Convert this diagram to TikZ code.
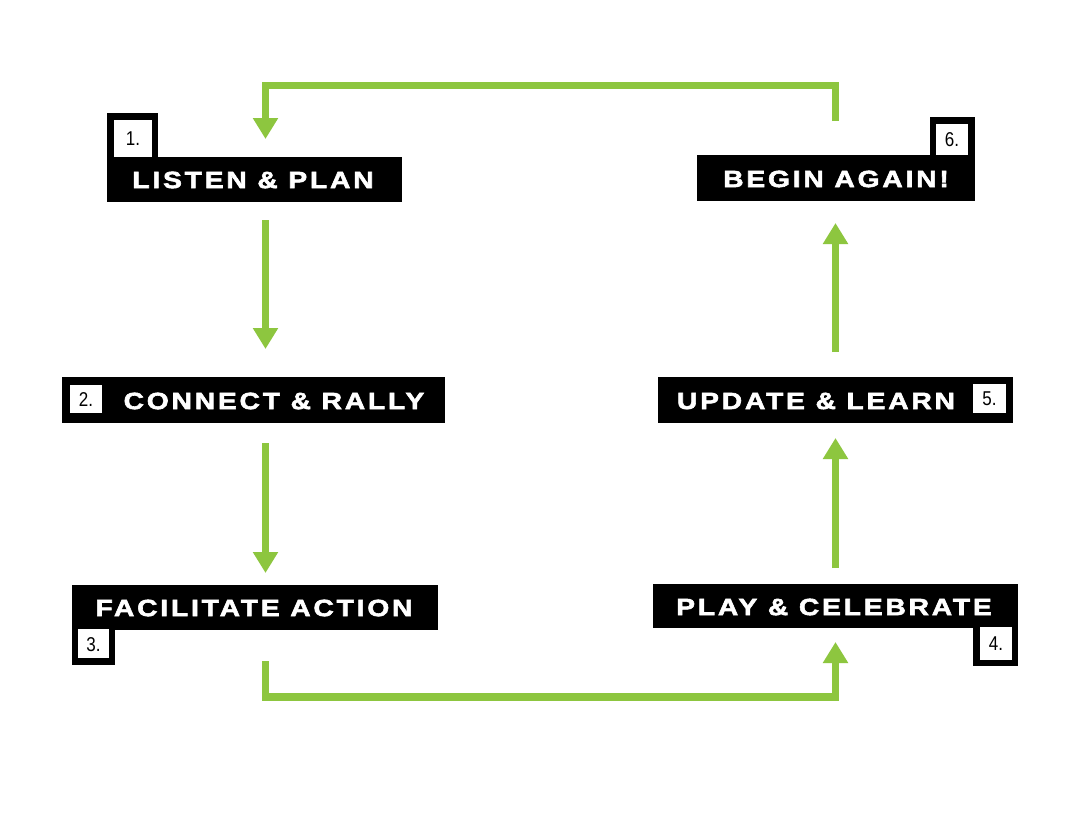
\documentclass[tikz,border=0pt]{standalone}
\usepackage{fontspec}
\usetikzlibrary{arrows.meta}
\newfontfamily\lblfont{Liberation Sans}[FakeStretch=1.2,LetterSpace=12,FakeBold=2.5]
\newfontfamily\numfont{Liberation Sans}[FakeStretch=0.85]
\definecolor{cgreen}{HTML}{8DC63F}
\tikzset{
  bar/.style={fill=black,inner sep=0pt,text=white,font=\lblfont\bfseries\fontsize{23.5}{24}\selectfont},
  lbl/.style={inner sep=0pt,text=white,font=\lblfont\bfseries\fontsize{23.5}{24}\selectfont},
  numtxt/.style={inner sep=0pt,text=black,font=\numfont\fontsize{20}{22}\selectfont},
  flow/.style={draw=cgreen,line width=7.7pt,line join=miter,line cap=butt,-{Triangle[width=24pt,length=21pt]}}
}
\begin{document}
\begin{tikzpicture}[x=1pt,y=-1pt]
\useasboundingbox[fill=white] (0,0) rectangle (1080,830);
% Box 1
\fill (107,113) rectangle (158,157);
\fill[white] (114,120) rectangle (152,158);
\node[bar,minimum width=295pt,minimum height=45pt] (b1) at (254.5,179.5) {};
\node[lbl] (t1) at (253,180) {LISTEN \& PLAN};
\node[numtxt] (n1) at (133,139) {1.};
% Box 6
\fill (930,117) rectangle (975,155);
\fill[white] (936,124) rectangle (968,156);
\node[bar,minimum width=278pt,minimum height=46pt] (b6) at (836,178) {};
\node[lbl] (t6) at (836,179) {BEGIN AGAIN!};
\node[numtxt] (n6) at (952,140) {6.};
% Box 2
\node[bar,minimum width=383pt,minimum height=46pt] (b2) at (253.5,400) {};
\fill[white] (70,385) rectangle (102,413);
\node[numtxt] (n2) at (86,400) {2.};
\node[lbl] (t2) at (274,401) {CONNECT \& RALLY};
% Box 5
\node[bar,minimum width=355pt,minimum height=46pt] (b5) at (835.5,400) {};
\fill[white] (973,384) rectangle (1006,413);
\node[numtxt] (n5) at (989.5,399) {5.};
\node[lbl] (t5) at (816,401) {UPDATE \& LEARN};
% Box 3
\fill (72,630) rectangle (115,665);
\node[bar,minimum width=366pt,minimum height=45pt] (b3) at (255,607.5) {};
\fill[white] (78,629) rectangle (109,658);
\node[numtxt] (n3) at (93.5,645) {3.};
\node[lbl] (t3) at (254,608) {FACILITATE ACTION};
% Box 4
\fill (973,628) rectangle (1018,666);
\node[bar,minimum width=365pt,minimum height=44pt] (b4) at (835.5,606) {};
\fill[white] (980,627) rectangle (1012,660);
\node[numtxt] (n4) at (996,644) {4.};
\node[lbl] (t4) at (834,607) {PLAY \& CELEBRATE};
% Connector coordinates
\coordinate (a6s) at (835.5,121);
\coordinate (a1e) at (265.5,139);
\coordinate (a1s) at (265.5,220);
\coordinate (a2e) at (265.5,349);
\coordinate (a2s) at (265.5,443);
\coordinate (a3e) at (265.5,573);
\coordinate (a3s) at (265.5,661);
\coordinate (a4e) at (835.5,642);
\coordinate (a4s) at (835.5,568);
\coordinate (a5e) at (835.5,438);
\coordinate (a5s) at (835.5,352);
\coordinate (a6e) at (835.5,223);
% Connectors
\draw[flow] (a6s) -- (835.5,85.5) -- (265.5,85.5) -- (a1e);
\draw[flow] (a1s) -- (a2e);
\draw[flow] (a2s) -- (a3e);
\draw[flow] (a3s) -- (265.5,697) -- (835.5,697) -- (a4e);
\draw[flow] (a4s) -- (a5e);
\draw[flow] (a5s) -- (a6e);
\end{tikzpicture}
\end{document}
